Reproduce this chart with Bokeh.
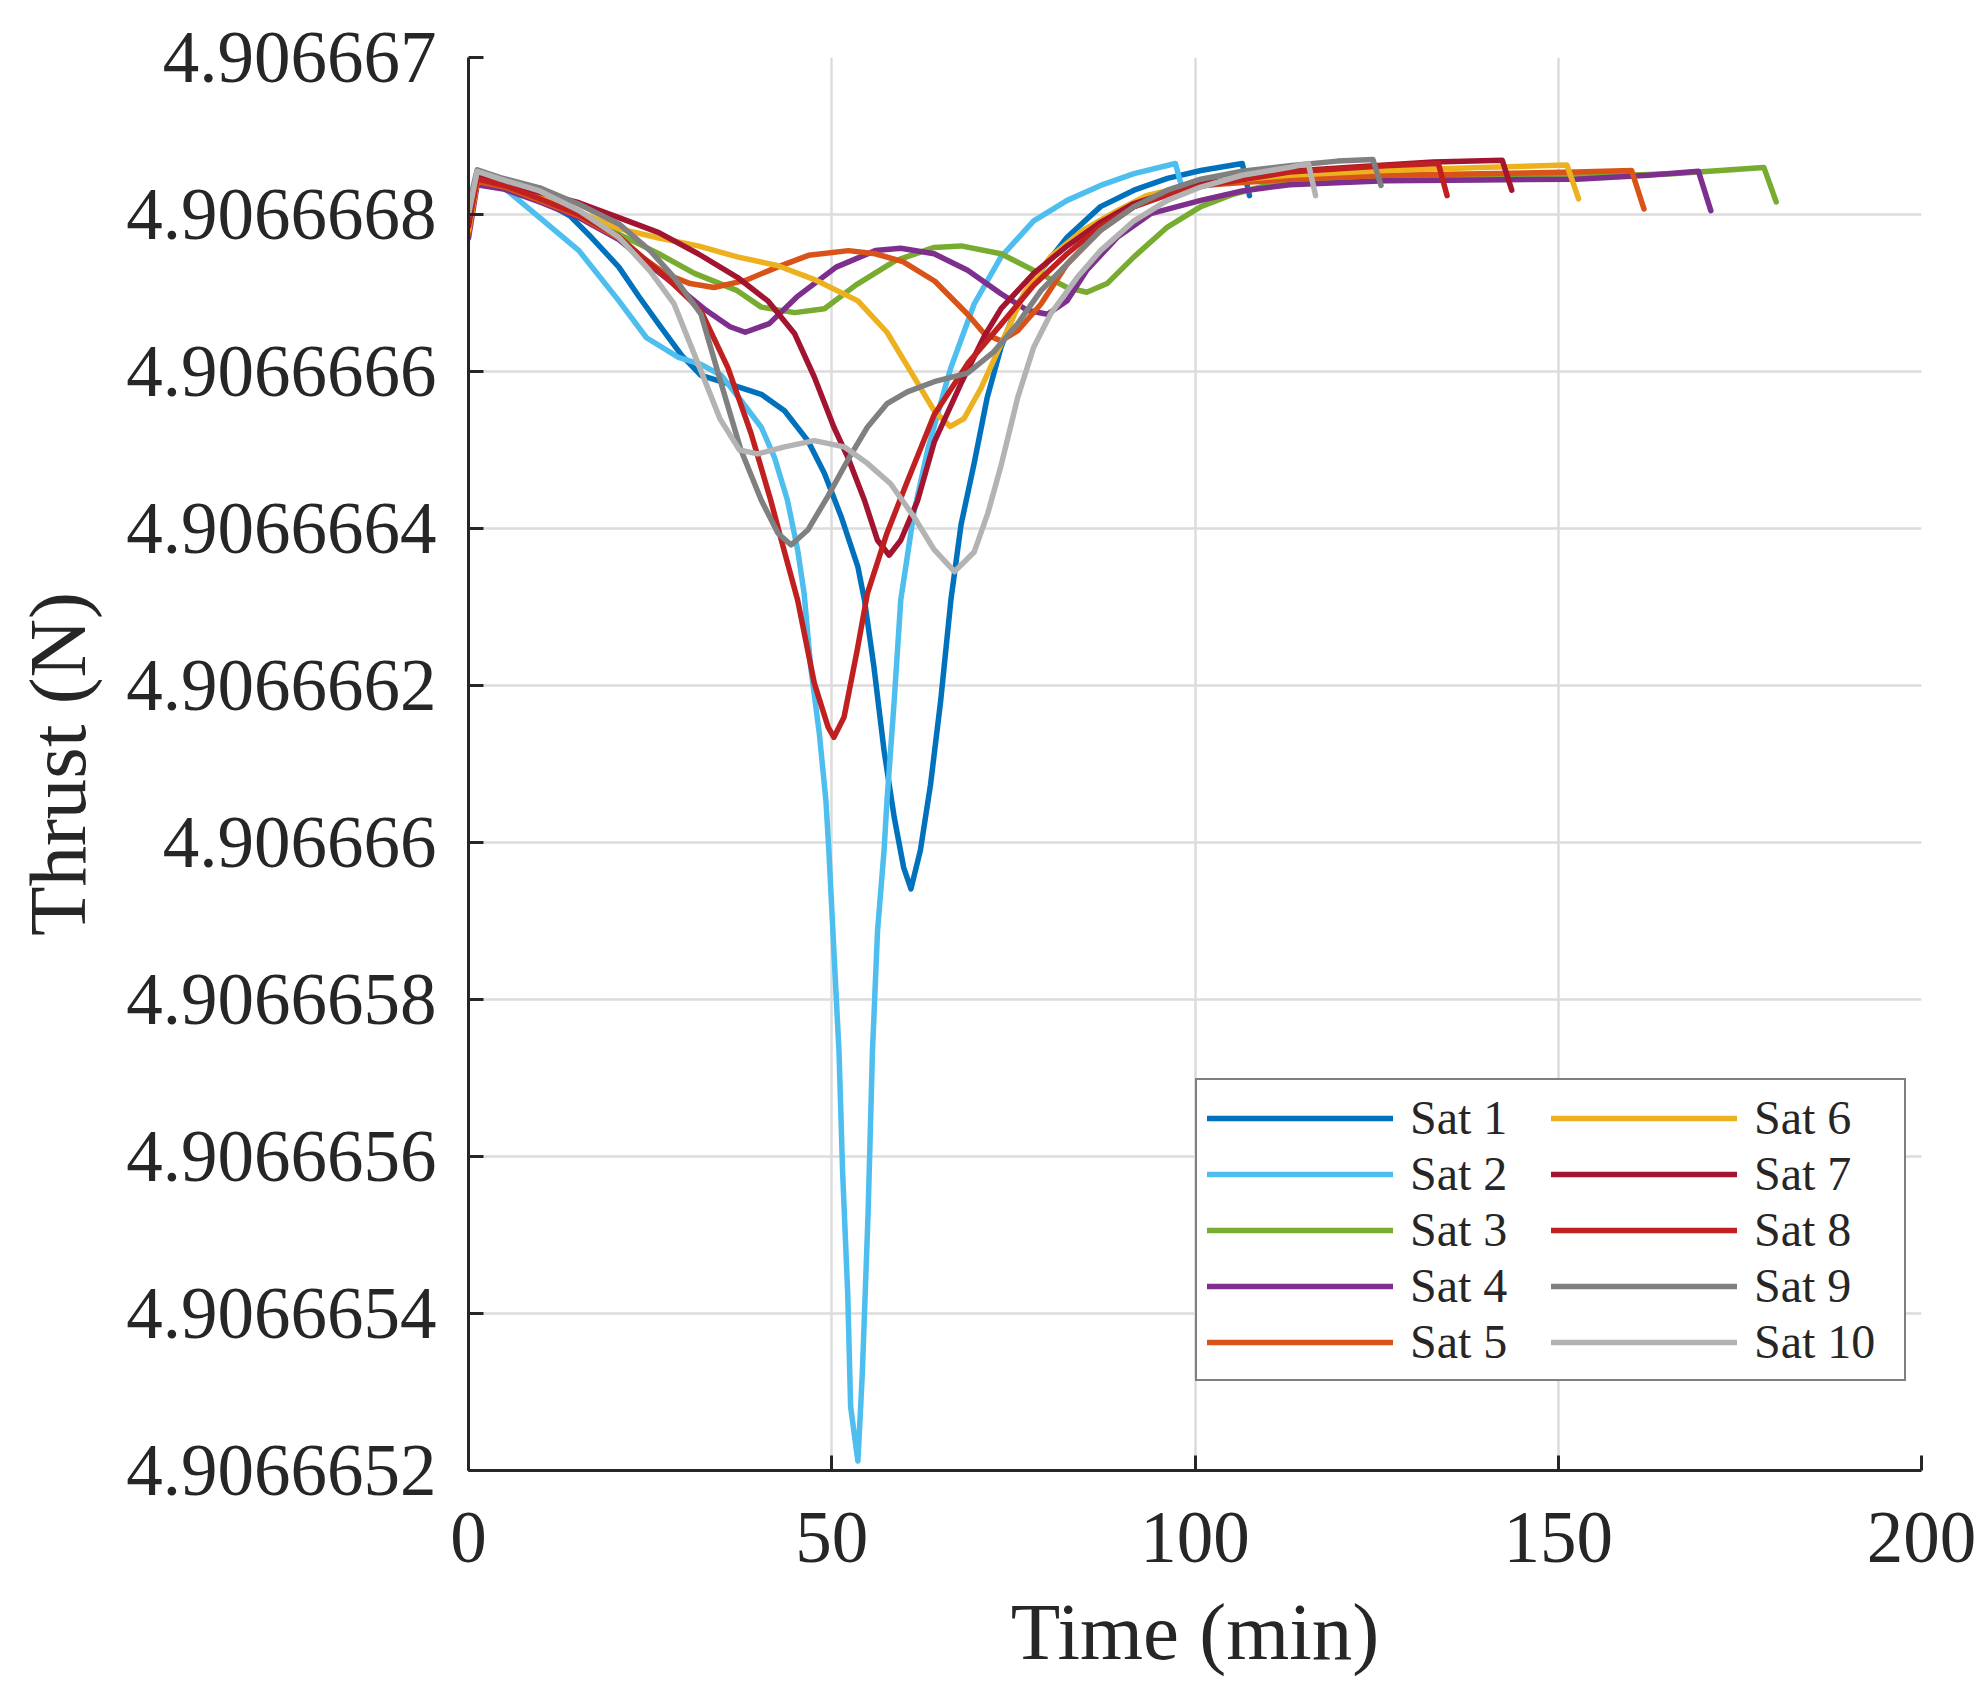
from bokeh.plotting import figure
from bokeh.models import Range1d, FixedTicker, CustomJSTickFormatter, Legend, LegendItem
from bokeh.embed import file_html
from bokeh.resources import INLINE

# ---------------- data (time in min, thrust in N) ----------------
sat1_t = [0, 1.2, 5, 9.8, 14, 17, 20.7, 23.5, 26.2, 29.4, 32, 36.6, 40.3, 43.5, 46.7, 49, 51.3, 53.6, 54.5, 55.8, 57.2, 58.6, 59.9, 60.9, 62.2, 63.6, 65, 66.4, 67.8, 69.6, 71.4, 73.3, 75.6, 78.8, 82.4, 87, 91.6, 96.2, 100.8, 106.5, 107.5]
sat1_f = [4.90666679, 4.906666845, 4.906666836, 4.90666682, 4.906666798, 4.90666677, 4.906666733, 4.906666695, 4.90666666, 4.90666662, 4.906666595, 4.906666582, 4.906666571, 4.90666655, 4.906666512, 4.90666647, 4.906666415, 4.906666351, 4.906666309, 4.906666224, 4.906666117, 4.906666032, 4.906665968, 4.906665941, 4.90666599, 4.906666074, 4.906666181, 4.906666309, 4.906666405, 4.906666483, 4.906666567, 4.906666631, 4.906666686, 4.906666729, 4.906666771, 4.90666681, 4.906666831, 4.906666846, 4.906666856, 4.906666865, 4.906666824]

sat2_t = [0, 1.2, 5, 9.8, 15.2, 20.7, 24.5, 28.9, 32, 34.8, 37.5, 40.3, 42.1, 43.9, 45.3, 46.2, 47.1, 48.3, 49.2, 49.6, 50.3, 51, 51.5, 52.2, 52.6, 53.6, 54.2, 55, 55.6, 56.3, 57.2, 57.6, 58.6, 59.5, 61.3, 63.2, 65, 66.4, 69.6, 73.3, 77.8, 82.4, 87, 91.6, 97.3, 98]
sat2_f = [4.906666805, 4.906666845, 4.906666833, 4.906666796, 4.906666754, 4.90666669, 4.906666643, 4.906666618, 4.906666609, 4.906666595, 4.906666563, 4.906666529, 4.906666491, 4.906666436, 4.906666373, 4.906666317, 4.906666224, 4.906666138, 4.906666053, 4.90666599, 4.906665861, 4.906665733, 4.906665579, 4.906665425, 4.906665281, 4.906665212, 4.906665322, 4.906665527, 4.906665733, 4.906665887, 4.90666599, 4.906666053, 4.906666181, 4.906666309, 4.90666642, 4.9066665, 4.90666656, 4.906666605, 4.906666686, 4.906666746, 4.906666792, 4.906666818, 4.906666837, 4.906666852, 4.906666865, 4.906666841]

sat3_t = [0, 1.2, 5, 9.8, 15.2, 20.7, 26.2, 31.1, 37, 40.3, 44.9, 49, 53.3, 58.7, 64.1, 67.8, 73.3, 78.8, 82.4, 85.1, 87.9, 91.6, 96.2, 100.8, 105, 109.8, 119.6, 132.8, 146, 159.1, 165.7, 172.3, 178.3, 180]
sat3_f = [4.906666785, 4.906666845, 4.906666838, 4.906666822, 4.906666802, 4.906666775, 4.90666675, 4.906666725, 4.906666703, 4.906666682, 4.906666675, 4.90666668, 4.90666671, 4.906666741, 4.906666758, 4.90666676, 4.90666675, 4.906666724, 4.906666707, 4.906666701, 4.906666712, 4.906666746, 4.906666784, 4.90666681, 4.906666825, 4.906666837, 4.906666846, 4.906666849, 4.90666685, 4.90666685, 4.906666852, 4.906666856, 4.90666686, 4.906666816]

sat4_t = [0, 1.2, 5, 9.8, 15.2, 20.7, 25, 29.4, 32.7, 36, 38.1, 41.4, 45.2, 50.6, 56, 59.5, 64.1, 68.7, 73.3, 76.9, 79.7, 82.4, 85.1, 89.3, 93.9, 100.8, 106.5, 113, 126.2, 139.4, 152.5, 162.4, 169.3, 171]
sat4_f = [4.90666677, 4.906666838, 4.906666832, 4.906666816, 4.906666796, 4.906666768, 4.906666735, 4.906666703, 4.906666678, 4.906666657, 4.90666665, 4.906666661, 4.906666695, 4.906666733, 4.906666754, 4.906666757, 4.90666675, 4.906666729, 4.906666699, 4.906666678, 4.906666673, 4.90666669, 4.906666729, 4.906666771, 4.906666801, 4.906666818, 4.90666683, 4.906666838, 4.906666843, 4.906666844, 4.906666845, 4.90666685, 4.906666855, 4.906666805]

sat5_t = [0, 1.2, 5, 9.8, 15.2, 20.7, 24, 27.2, 30.5, 33.8, 38.1, 42.5, 46.8, 52.3, 56, 59.8, 64.2, 68.7, 71, 73.3, 75.6, 78.8, 82.4, 87, 91.6, 96.2, 100.8, 113, 126.2, 139.4, 152.5, 160.1, 161.8]
sat5_f = [4.906666775, 4.906666842, 4.906666835, 4.906666818, 4.906666798, 4.90666677, 4.906666745, 4.906666724, 4.906666712, 4.906666707, 4.906666716, 4.906666733, 4.906666748, 4.906666754, 4.90666675, 4.90666674, 4.906666715, 4.906666673, 4.906666648, 4.906666639, 4.906666652, 4.906666686, 4.906666737, 4.90666678, 4.90666681, 4.906666826, 4.906666837, 4.906666845, 4.90666685, 4.906666852, 4.906666854, 4.906666856, 4.906666807]

sat6_t = [0, 1.2, 5, 9.8, 15.2, 20.7, 26.2, 31.6, 37, 42.5, 47.9, 53.6, 57.6, 61, 64.1, 66.3, 68.2, 70.5, 73.3, 76.5, 80.1, 84.6, 89.3, 93.3, 100, 113, 126.2, 139.4, 151.2, 152.8]
sat6_f = [4.90666678, 4.906666845, 4.906666838, 4.906666822, 4.906666803, 4.906666782, 4.90666677, 4.90666676, 4.906666746, 4.906666735, 4.906666716, 4.90666669, 4.90666665, 4.906666598, 4.90666655, 4.90666653, 4.90666654, 4.906666578, 4.906666635, 4.9066667, 4.906666746, 4.90666678, 4.906666805, 4.906666824, 4.906666839, 4.90666685, 4.906666856, 4.90666686, 4.906666863, 4.90666682]

sat7_t = [0, 1.2, 5, 9.8, 15.2, 20.7, 26.2, 31.6, 37, 41.2, 44.9, 47.6, 50.3, 52.2, 54.5, 56.3, 57.9, 59.5, 61.8, 64.1, 67.8, 71, 73.3, 77.8, 82.4, 87, 91.6, 96.2, 100.8, 113, 126.2, 132.8, 142.3, 143.6]
sat7_f = [4.906666785, 4.906666848, 4.906666841, 4.906666828, 4.906666815, 4.906666796, 4.906666777, 4.90666675, 4.90666672, 4.90666669, 4.906666648, 4.906666593, 4.906666529, 4.906666491, 4.906666436, 4.906666385, 4.906666366, 4.906666385, 4.906666435, 4.90666651, 4.906666585, 4.906666645, 4.90666668, 4.906666725, 4.90666676, 4.90666679, 4.906666814, 4.906666828, 4.906666839, 4.906666855, 4.906666863, 4.906666867, 4.906666869, 4.906666831]

sat8_t = [0, 1.2, 5, 9.8, 15.2, 20.7, 24, 27.2, 30.5, 32, 35.7, 38.9, 41.6, 43.5, 45.3, 47.6, 49.5, 50.3, 51.7, 53.5, 54.9, 57.6, 60.4, 64.1, 68.7, 73.3, 77.8, 82.4, 87, 91.6, 96.2, 100.8, 113, 126.2, 133.5, 134.7]
sat8_f = [4.90666679, 4.906666845, 4.906666837, 4.90666682, 4.9066668, 4.906666772, 4.906666745, 4.90666672, 4.906666691, 4.906666677, 4.906666605, 4.906666521, 4.906666436, 4.90666637, 4.906666309, 4.906666203, 4.906666147, 4.906666134, 4.90666616, 4.906666245, 4.906666317, 4.906666394, 4.90666646, 4.906666545, 4.90666661, 4.90666666, 4.90666671, 4.90666675, 4.906666785, 4.90666681, 4.906666825, 4.906666836, 4.906666854, 4.906666862, 4.906666865, 4.906666824]

sat9_t = [0, 1.2, 4.4, 9.8, 15.2, 20.7, 25, 28.3, 32, 34.8, 37.5, 40.3, 42.6, 44.4, 46.7, 49.4, 52.2, 54.9, 57.6, 60.4, 64.1, 68.7, 72.3, 75.6, 78.8, 82.4, 87, 91.6, 96.2, 100.8, 106.5, 113, 119.6, 124.5, 125.6]
sat9_f = [4.90666681, 4.906666857, 4.906666847, 4.906666834, 4.906666813, 4.906666788, 4.906666754, 4.90666672, 4.906666673, 4.906666584, 4.9066665, 4.906666436, 4.906666394, 4.906666379, 4.906666398, 4.90666644, 4.906666487, 4.906666529, 4.906666559, 4.906666574, 4.906666587, 4.906666598, 4.906666625, 4.906666661, 4.906666703, 4.906666737, 4.90666678, 4.90666681, 4.906666831, 4.906666845, 4.906666855, 4.906666862, 4.906666868, 4.90666687, 4.906666837]

sat10_t = [0, 1.2, 4.4, 9.8, 15.2, 20.7, 25, 28.3, 31.6, 34.6, 37.3, 39.8, 43.5, 47.6, 51.7, 54.9, 58.1, 61.3, 64.1, 66.9, 69.6, 71.5, 73.3, 75.6, 77.8, 80.1, 83.8, 87, 91.6, 96.2, 100.8, 106.5, 113, 115.6, 116.6]
sat10_f = [4.9066668, 4.906666855, 4.906666845, 4.90666683, 4.906666805, 4.906666771, 4.906666728, 4.906666686, 4.90666661, 4.90666654, 4.9066665, 4.906666495, 4.906666504, 4.906666512, 4.906666504, 4.906666483, 4.906666457, 4.906666415, 4.906666373, 4.906666345, 4.90666637, 4.90666642, 4.90666648, 4.906666567, 4.906666631, 4.906666673, 4.90666672, 4.906666754, 4.906666792, 4.906666818, 4.906666835, 4.90666685, 4.90666686, 4.906666865, 4.906666824]

series_names = ["Sat 1", "Sat 2", "Sat 3", "Sat 4", "Sat 5", "Sat 6", "Sat 7", "Sat 8", "Sat 9", "Sat 10"]
series_colors = ["#0072BD", "#4DBEEE", "#77AC30", "#7E2F8E", "#D95319",
                 "#EDB120", "#A2142F", "#C0201F", "#808080", "#B3B3B3"]

x_ticks = [0, 50, 100, 150, 200]
y_ticks = [4.9066652, 4.9066654, 4.9066656, 4.9066658, 4.906666,
           4.9066662, 4.9066664, 4.9066666, 4.9066668, 4.906667]

# ---------------- figure ----------------
FONT = "Liberation Serif"
TXT = "#262626"

p = figure(frame_width=1453, frame_height=1413,
           min_border_left=468, min_border_right=56,
           min_border_top=57, min_border_bottom=200,
           x_range=Range1d(x_ticks[0], x_ticks[-1]),
           y_range=Range1d(y_ticks[0], y_ticks[-1]),
           output_backend="svg", toolbar_location=None,
           x_axis_label="Time (min)", y_axis_label="Thrust (N)")
p.outline_line_color = None
p.background_fill_color = "white"
p.border_fill_color = "white"

all_t = [sat1_t, sat2_t, sat3_t, sat4_t, sat5_t, sat6_t, sat7_t, sat8_t, sat9_t, sat10_t]
all_f = [sat1_f, sat2_f, sat3_f, sat4_f, sat5_f, sat6_f, sat7_f, sat8_f, sat9_f, sat10_f]

items = []
for name, col, tt, ff in zip(series_names, series_colors, all_t, all_f):
    r = p.line(tt, ff, line_color=col, line_width=5.5, line_join="round", line_cap="round")
    items.append(LegendItem(label=name, renderers=[r]))

# axes
p.xaxis.ticker = FixedTicker(ticks=x_ticks)
p.yaxis.ticker = FixedTicker(ticks=y_ticks)
p.yaxis.formatter = CustomJSTickFormatter(code="return String(parseFloat(tick.toFixed(7)));")
for ax in (p.xaxis, p.yaxis):
    ax.axis_line_color = TXT
    ax.axis_line_width = 3
    ax.major_tick_line_color = TXT
    ax.major_tick_line_width = 3
    ax.major_tick_in = 15
    ax.major_tick_out = 0
    ax.minor_tick_line_color = None
    ax.major_label_text_font = FONT
    ax.major_label_text_font_size = "73px"
    ax.major_label_text_color = TXT
    ax.axis_label_text_font = FONT
    ax.axis_label_text_font_size = "81px"
    ax.axis_label_text_font_style = "normal"
    ax.axis_label_text_color = TXT
p.xaxis.major_label_standoff = 42
p.xaxis.axis_label_standoff = 22
p.yaxis.major_label_standoff = 32
p.yaxis.axis_label_standoff = 20

# grid
p.xgrid.ticker = FixedTicker(ticks=x_ticks)
p.ygrid.ticker = FixedTicker(ticks=y_ticks)
for g in (p.xgrid, p.ygrid):
    g.grid_line_color = "#DCDCDC"
    g.grid_line_width = 2.5

legend = Legend(items=items, ncols=2, location=(727, 89),
                label_text_font=FONT, label_text_font_size="48px",
                label_text_color=TXT,
                glyph_width=186, glyph_height=40, label_height=40,
                label_width=140,
                label_standoff=17, spacing=1, padding=10, margin=0,
                border_line_color="#000000", border_line_width=2.5,
                background_fill_color="white", background_fill_alpha=1.0)
p.add_layout(legend)

open("out.html", "w").write(file_html(p, INLINE))
